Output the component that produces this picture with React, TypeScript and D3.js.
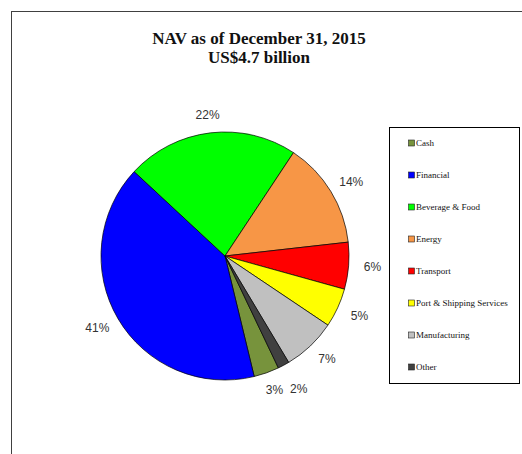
import * as d3 from 'd3'
import React from "react";

// sector shares (percent of NAV)
const categories = ["Cash", "Financial", "Beverage & Food", "Energy", "Transport", "Port & Shipping Services", "Manufacturing", "Other"];
const values = [3.3, 40.7, 22.4, 13.9, 6.1, 5.1, 7.0, 1.5];
const colors = ["#77933C", "#0000FF", "#00FF00", "#F79646", "#FF0000", "#FFFF00", "#C0C0C0", "#404040"];
const titleLines = ["NAV as of December 31, 2015", "US$4.7 billion"];

interface Slice {
    name: string
    value: number
    color: string
}

const data: Slice[] = categories.map((name, i) => ({ name, value: values[i], color: colors[i] }));

const width = 522;
const height = 454;
const cx = 225;
const cy = 256;
const radius = 124;
const startAngle = (154.5 * Math.PI) / 180;

const App: React.FC = () => {
    const pie = d3.pie<Slice>()
        .sort(null)
        .value(d => d.value)
        .startAngle(startAngle)
        .endAngle(startAngle + 2 * Math.PI);

    const arc = d3.arc<d3.PieArcDatum<Slice>>()
        .innerRadius(0)
        .outerRadius(radius);

    const arcs = pie(data);

    // labels sit just outside the rim, pushed out by half their box
    const labelGap = 12;
    const labelW = 24;
    const labelH = 13;

    const placed: { x: number, y: number }[] = [];
    const labels = arcs.map(a => {
        const mid = (a.startAngle + a.endAngle) / 2;
        const s = Math.sin(mid);
        const c = -Math.cos(mid);
        let r = radius + labelGap;
        let x = 0, y = 0;
        // nudge outwards while the box hits an earlier label
        for (let k = 0; k < 40; k++) {
            x = s * r + s * labelW / 2;
            y = c * r + c * labelH / 2;
            const hit = placed.some(p => Math.abs(p.x - x) < labelW && Math.abs(p.y - y) < labelH);
            if (!hit) break;
            r += 1;
        }
        placed.push({ x, y });
        return { a, x, y };
    });

    const legendY = d3.scalePoint<string>()
        .domain(categories)
        .range([143, 367]);

    return (
        <svg width={width} height={height} style={{ position: 'absolute', left: 0, top: 0, background: '#fff' }}>
            <line x1={11} y1={11.5} x2={width} y2={11.5} stroke="#404040" strokeWidth={1} />
            <line x1={11.5} y1={11} x2={11.5} y2={height} stroke="#404040" strokeWidth={1} />

            <g fontFamily="'Liberation Serif', 'Times New Roman', serif" fontWeight="bold" fontSize={17} textAnchor="middle" fill="#111">
                {titleLines.map((t, i) => (
                    <text key={t} x={259} y={44 + i * 19}>{t}</text>
                ))}
            </g>

            <g transform={`translate(${cx}, ${cy})`}>
                {arcs.map(a => (
                    <path key={a.data.name} d={arc(a) || ''} fill={a.data.color} stroke="#000" strokeWidth={0.7} />
                ))}
                {labels.map(({ a, x, y }) => (
                    <text key={a.data.name + '-l'} x={x} y={y} textAnchor="middle" dominantBaseline="central"
                        fontFamily="'Liberation Sans', Arial, sans-serif" fontSize={12} fill="#333">
                        {Math.round(a.data.value)}%
                    </text>
                ))}
            </g>

            <rect x={389.5} y={127.5} width={130} height={256} fill="#fff" stroke="#000" strokeWidth={1} />
            {data.map(d => {
                const y = legendY(d.name) as number;
                return (
                    <g key={d.name + '-k'}>
                        <rect x={408.5} y={y - 3} width={6} height={6} fill={d.color} stroke="#222" strokeWidth={0.6} />
                        <text x={416} y={y} dominantBaseline="central" fontFamily="'Liberation Serif', 'Times New Roman', serif"
                            fontSize={9} fill="#111">{d.name}</text>
                    </g>
                );
            })}
        </svg>
    );
}

export default App;
